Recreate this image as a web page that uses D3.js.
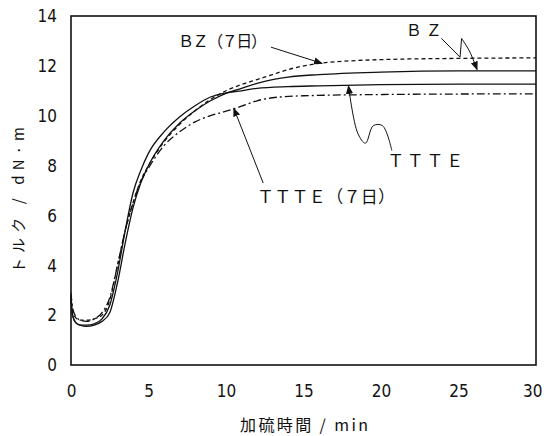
<!DOCTYPE html>
<html lang="ja">
<head>
<meta charset="utf-8">
<title>トルク曲線</title>
<script src="https://d3js.org/d3.v7.min.js"></script>
<style>
  body { margin: 0; background: #fff; }
  .tick text { font-family: "DejaVu Sans", sans-serif; font-size: 18px; fill: #111; }
  .lbl { font-family: "Noto Sans CJK JP", sans-serif; fill: #111; }
</style>
</head>
<body>
<svg id="svg" width="547" height="436"></svg>
<script>
// time (min) / torque (dN·m)
var bz7 = [[0,2.8],[0.1,2.2],[0.3,1.9],[0.6,1.8],[1,1.8],[1.5,1.85],[2,2.0],[2.5,2.6],[3,4.0],[3.5,5.4],[4,6.5],[4.5,7.4],[5,8.0],[6,8.95],[7,9.65],[8,10.2],[9,10.65],[10,11.0],[11,11.25],[12,11.45],[13,11.65],[14,11.85],[16,12.1],[18,12.2],[20,12.25],[25,12.3],[30,12.32]];
var bz = [[0,2.6],[0.1,2.0],[0.3,1.7],[0.6,1.6],[1,1.55],[1.5,1.6],[2,1.75],[2.5,2.1],[3,3.3],[3.5,4.9],[4,6.3],[4.5,7.3],[5,8.0],[6,9.0],[7,9.7],[8,10.2],[9,10.6],[10,10.9],[11,11.1],[12,11.3],[13,11.45],[14,11.55],[16,11.65],[20,11.75],[25,11.8],[30,11.8]];
var ttte = [[0,2.7],[0.1,2.0],[0.3,1.7],[0.6,1.6],[1,1.6],[1.5,1.65],[2,1.85],[2.5,2.4],[3,3.7],[3.5,5.4],[4,6.9],[4.5,7.8],[5,8.5],[6,9.35],[7,9.95],[8,10.4],[9,10.75],[10,10.92],[11,11.0],[12,11.1],[14,11.17],[16,11.2],[20,11.25],[25,11.27],[30,11.27]];
var ttte7 = [[0,2.9],[0.1,2.3],[0.3,1.95],[0.6,1.8],[1,1.75],[1.5,1.85],[2,2.1],[2.5,2.7],[3,4.0],[3.5,5.4],[4,6.5],[4.5,7.35],[5,7.9],[6,8.8],[7,9.35],[8,9.75],[9,10.0],[10,10.18],[11,10.38],[12,10.6],[13,10.72],[15,10.8],[20,10.85],[25,10.87],[30,10.88]];

var xTicks = [0,5,10,15,20,25,30];
var yTicks = [0,2,4,6,8,10,12,14];

var svg = d3.select("#svg");
var mLeft = 71, mRight = 536, mTop = 16, mBottom = 365;

var x = d3.scaleLinear().domain([0,30]).range([mLeft,mRight]);
var y = d3.scaleLinear().domain([0,14]).range([mBottom,mTop]);

// squeeze tick numbers a little, like the original's narrow digits
function narrow(g){
  g.select(".domain").remove();
  g.selectAll(".tick text").each(function(){
    var w = this.getComputedTextLength();
    d3.select(this).attr("textLength", w*0.85).attr("lengthAdjust","spacingAndGlyphs");
  });
}

var xg = svg.append("g").attr("transform","translate(0,"+mBottom+")")
   .call(d3.axisBottom(x).tickValues(xTicks).tickSize(0).tickPadding(19))
   .call(narrow);
// last label sits against the right edge as in the original
xg.selectAll(".tick text").filter(function(d){ return d === 30; })
   .attr("text-anchor","end").attr("dx", 6);

svg.append("g").attr("transform","translate("+mLeft+",0)")
   .call(d3.axisLeft(y).tickValues(yTicks).tickSize(0).tickPadding(14))
   .call(narrow);

// frame
svg.append("rect").attr("x",mLeft).attr("y",mTop)
   .attr("width",mRight-mLeft).attr("height",mBottom-mTop)
   .attr("fill","none").attr("stroke","#111").attr("stroke-width",1.6);

var line = d3.line().x(function(d){return x(d[0]);}).y(function(d){return y(d[1]);})
   .curve(d3.curveMonotoneX);

var series = [
  {data: bz7, dash: "4,3"},
  {data: bz, dash: null},
  {data: ttte, dash: null},
  {data: ttte7, dash: "8,3,2,3"}
];
svg.selectAll("path.s").data(series).enter().append("path")
   .attr("class","s")
   .attr("d", function(d){ return line(d.data); })
   .attr("fill","none").attr("stroke","#111").attr("stroke-width",1.3)
   .attr("stroke-dasharray", function(d){ return d.dash; });

// arrowhead
svg.append("defs").append("marker").attr("id","ah")
   .attr("viewBox","0 0 10 10").attr("refX",9).attr("refY",5)
   .attr("markerWidth",9).attr("markerHeight",9).attr("orient","auto")
   .append("path").attr("d","M0,1 L10,5 L0,9 Z").attr("fill","#111");

// annotations: text + leader, in data coordinates
function pt(t,v){ return [x(t),y(v)]; }
var lg = d3.line().curve(d3.curveCatmullRom);

svg.append("text").attr("class","lbl").attr("x",x(6.9)).attr("y",y(12.75))
   .attr("font-size",16).attr("textLength",89).attr("lengthAdjust","spacing")
   .text("ＢＺ（７日）");
svg.append("path").attr("d", lg([pt(12.9,12.75),pt(16.2,12.1)]))
   .attr("fill","none").attr("stroke","#111").attr("marker-end","url(#ah)");

svg.append("text").attr("class","lbl").attr("x",x(21.6)).attr("y",y(13.2))
   .attr("font-size",16).attr("textLength",36).attr("lengthAdjust","spacing")
   .text("ＢＺ");
svg.append("path").attr("d", d3.line()([pt(23.9,13.1),pt(25.1,12.35),pt(25.2,13.1)]))
   .attr("fill","none").attr("stroke","#111");
svg.append("path").attr("d", lg([pt(25.2,13.1),pt(25.7,12.6),pt(26.2,11.85)]))
   .attr("fill","none").attr("stroke","#111").attr("marker-end","url(#ah)");

svg.append("text").attr("class","lbl").attr("x",x(20.4)).attr("y",y(7.95))
   .attr("font-size",17).attr("textLength",76).attr("lengthAdjust","spacing")
   .text("ＴＴＴＥ");
svg.append("path").attr("d", lg([pt(20.7,8.6),pt(20.1,9.6),pt(19.5,9.6),pt(19.0,8.9),pt(18.5,9.3),pt(17.9,11.2)]))
   .attr("fill","none").attr("stroke","#111").attr("marker-end","url(#ah)");

svg.append("text").attr("class","lbl").attr("x",x(12.0)).attr("y",y(6.5))
   .attr("font-size",17).attr("textLength",138).attr("lengthAdjust","spacing")
   .text("ＴＴＴＥ（７日）");
svg.append("path").attr("d", lg([pt(12.4,7.3),pt(10.5,10.3)]))
   .attr("fill","none").attr("stroke","#111").attr("marker-end","url(#ah)");

// axis titles
svg.append("text").attr("class","lbl").attr("x",240).attr("y",431)
   .attr("font-size",16).attr("textLength",128).attr("lengthAdjust","spacing")
   .text("加硫時間 / min");
svg.append("text").attr("class","lbl").attr("font-size",15)
   .attr("textLength",146).attr("lengthAdjust","spacing")
   .attr("transform","translate(24,273) rotate(-90)")
   .text("トルク / dN·m");
</script>
</body>
</html>
